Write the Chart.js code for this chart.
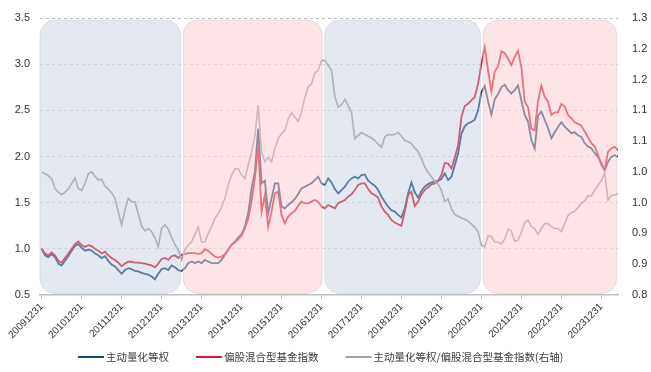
<!DOCTYPE html>
<html>
<head>
<meta charset="utf-8">
<script src="https://cdn.jsdelivr.net/npm/chart.js@4.4.1/dist/chart.umd.min.js"></script>
<style>
  html, body { margin: 0; padding: 0; background: #fff; }
</style>
</head>
<body>
<canvas id="chart" width="651" height="372"></canvas>
<script>
// year-end tick labels, one every 12 months starting at 20091231
const yearLabels = ["20091231", "20101231", "20111231", "20121231", "20131231", "20141231", "20151231",
  "20161231", "20171231", "20181231", "20191231", "20201231", "20211231", "20221231", "20231231"];

// monthly readings, index 0 = 2009-12
const quantEqual = [
  1.00, 0.93, 0.91, 0.94, 0.91, 0.84, 0.82, 0.87, 0.92, 0.98,
  1.03, 1.05, 1.01, 0.98, 0.99, 0.98, 0.95, 0.93, 0.90, 0.92,
  0.87, 0.83, 0.81, 0.77, 0.73, 0.77, 0.79, 0.78, 0.76, 0.755,
  0.74, 0.73, 0.72, 0.70, 0.67, 0.73, 0.78, 0.79, 0.77, 0.82,
  0.80, 0.77, 0.76,
  0.79, 0.845, 0.863, 0.845, 0.863, 0.845, 0.881, 0.863, 0.845, 0.845,
  0.845, 0.881, 0.935, 0.989, 1.043, 1.079, 1.122, 1.158, 1.241, 1.385,
  1.655, 1.835, 2.302, 1.709, 1.737, 1.385, 1.547, 1.709, 1.709, 1.457,
  1.439, 1.475, 1.504, 1.540, 1.594, 1.655, 1.673, 1.691, 1.709, 1.745,
  1.781, 1.709,
  1.691, 1.763, 1.719, 1.647, 1.601, 1.637, 1.673, 1.727, 1.763, 1.781,
  1.763, 1.799, 1.806, 1.737, 1.709, 1.683, 1.637, 1.565, 1.511, 1.457,
  1.417, 1.403, 1.367, 1.338, 1.439, 1.601, 1.719, 1.612, 1.554, 1.626,
  1.673, 1.701, 1.719, 1.727, 1.737, 1.755, 1.817, 1.745, 1.781, 1.906,
  2.032, 2.248, 2.327, 2.360, 2.374, 2.399,
  2.500, 2.698, 2.763, 2.597, 2.453, 2.619, 2.676, 2.752, 2.777, 2.719,
  2.683, 2.719, 2.770, 2.604, 2.450, 2.378, 2.176, 2.086, 2.446, 2.486,
  2.396, 2.306, 2.198, 2.263, 2.320, 2.371, 2.324, 2.288, 2.252, 2.263,
  2.230, 2.212, 2.144, 2.108, 2.090, 2.036, 1.996, 1.928, 1.853, 1.942,
  1.996, 2.014, 1.996
];

const mixedIndex = [
  1.00, 0.95, 0.93, 0.96, 0.93, 0.87, 0.85, 0.90, 0.95, 1.00,
  1.05, 1.08, 1.04, 1.02, 1.04, 1.03, 1.00, 0.98, 0.95, 0.97,
  0.93, 0.90, 0.88, 0.85, 0.81, 0.84, 0.86, 0.86, 0.85, 0.85,
  0.845, 0.84, 0.83, 0.82, 0.80, 0.84, 0.89, 0.90, 0.88, 0.92,
  0.93, 0.90, 0.935,
  0.946, 0.953, 0.953, 0.953, 0.946, 0.953, 0.996, 0.978, 0.946, 0.917,
  0.906, 0.917, 0.942, 0.989, 1.043, 1.068, 1.104, 1.140, 1.223, 1.324,
  1.511, 1.763, 2.122, 1.403, 1.583, 1.241, 1.403, 1.601, 1.619, 1.367,
  1.277, 1.349, 1.385, 1.410, 1.468, 1.511, 1.493, 1.493, 1.511, 1.529,
  1.511, 1.457,
  1.439, 1.475, 1.457, 1.439, 1.493, 1.511, 1.529, 1.565, 1.590, 1.637,
  1.691, 1.709, 1.709, 1.647, 1.601, 1.583, 1.554, 1.457, 1.403, 1.367,
  1.313, 1.284, 1.266, 1.248, 1.403, 1.583, 1.619, 1.464, 1.511, 1.590,
  1.637, 1.665, 1.698, 1.709, 1.734, 1.799, 1.930, 1.924, 1.871, 1.986,
  2.122, 2.428, 2.547, 2.572, 2.608, 2.644,
  2.788, 3.004, 3.183, 2.932, 2.705, 2.921, 2.978, 3.140, 3.119, 3.058,
  2.989, 3.079, 3.144, 2.964, 2.597, 2.532, 2.302, 2.284, 2.601, 2.766,
  2.647, 2.594, 2.450, 2.478, 2.478, 2.568, 2.540, 2.450, 2.414, 2.371,
  2.353, 2.335, 2.270, 2.209, 2.144, 2.108, 2.018, 1.910, 1.853, 2.050,
  2.086, 2.104, 2.068
];

// right axis
const ratioLine = [
  1.000, 0.997, 0.994, 0.989, 0.973, 0.967, 0.963, 0.967, 0.972, 0.981,
  0.990, 0.973, 0.970, 0.981, 0.997, 1.000, 0.993, 0.987, 0.988, 0.977,
  0.972, 0.966, 0.957, 0.935, 0.914, 0.938, 0.957, 0.952, 0.951, 0.932,
  0.912, 0.904, 0.908, 0.903, 0.893, 0.878, 0.908, 0.914, 0.907, 0.894,
  0.882, 0.873, 0.857,
  0.873, 0.881, 0.886, 0.898, 0.911, 0.886, 0.886, 0.900, 0.911, 0.924,
  0.932, 0.943, 0.957, 0.978, 0.995, 1.005, 1.005, 0.995, 0.989, 1.011,
  1.032, 1.059, 1.108, 1.032, 1.016, 1.024, 1.016, 1.038, 1.054, 1.062,
  1.067, 1.086, 1.096, 1.089, 1.082, 1.097, 1.121, 1.138, 1.143, 1.161,
  1.165, 1.181,
  1.181, 1.173, 1.165, 1.123, 1.105, 1.109, 1.118, 1.108, 1.096, 1.054,
  1.059, 1.064, 1.061, 1.058, 1.055, 1.051, 1.045, 1.040, 1.057, 1.061,
  1.060, 1.061, 1.064, 1.058, 1.051, 1.049, 1.046, 1.039, 1.033, 1.022,
  1.008, 0.999, 0.992, 0.985, 0.980, 0.970, 0.952, 0.956, 0.940, 0.931,
  0.928, 0.925, 0.923, 0.920, 0.915, 0.910,
  0.903, 0.881, 0.878, 0.896, 0.895, 0.886, 0.886, 0.883, 0.891, 0.907,
  0.904, 0.887, 0.889, 0.902, 0.918, 0.922, 0.911, 0.908, 0.898, 0.908,
  0.916, 0.916, 0.911, 0.908, 0.908, 0.903, 0.916, 0.929, 0.934, 0.936,
  0.942, 0.949, 0.953, 0.961, 0.961, 0.970, 0.978, 0.986, 0.999, 0.954,
  0.962, 0.962, 0.965
];

// market phases (month index boundaries)
const phaseEdges = [-0.5, 42.1, 84.6, 132.1, 173];
const phaseKind = ["down", "up", "down", "up"];

const phaseFill = { down: "rgba(187,197,217,0.4)", up: "rgba(251,201,205,0.5)" };

const months = quantEqual.map((_, i) => i);

Chart.defaults.font.family = "'Liberation Sans', Arial, sans-serif";
Chart.defaults.color = "#333";

const phasePlugin = {
  id: "phases",
  afterDatasetsDraw(chart) {
    const { ctx, chartArea, scales } = chart;
    const x = scales.x;
    ctx.save();
    for (let k = 0; k < phaseKind.length; k++) {
      const left = k === 0 ? chartArea.left : x.getPixelForValue(phaseEdges[k]) + 1.3;
      const right = Math.min(x.getPixelForValue(phaseEdges[k + 1]) - 1.3, chartArea.right);
      const top = chartArea.top + 2;
      const h = chartArea.bottom - 1.5 - top;
      ctx.beginPath();
      ctx.roundRect(left, top, right - left, h, 15);
      ctx.fillStyle = phaseFill[phaseKind[k]];
      ctx.fill();
      ctx.strokeStyle = "rgba(195,198,208,0.6)";
      ctx.lineWidth = 0.8;
      ctx.stroke();
    }
    ctx.restore();
  }
};

// legend drawn under the rotated date labels
const legendPlugin = {
  id: "bottomLegend",
  afterDraw(chart) {
    const { ctx, chartArea } = chart;
    const y = chartArea.bottom + 62;
    let x = chartArea.left + 38;
    ctx.save();
    ctx.font = "10.5px 'Noto Sans CJK SC', sans-serif";
    ctx.textBaseline = "middle";
    chart.data.datasets.forEach((ds) => {
      ctx.fillStyle = ds.borderColor;
      ctx.fillRect(x, y - 1, 26, 2);
      x += 28;
      ctx.fillStyle = "#404040";
      ctx.fillText(ds.label, x, y);
      x += ctx.measureText(ds.label).width + 27;
    });
    ctx.restore();
  }
};

function roundHalfUp(v) {
  return (Math.round(Math.round(v * 100) / 10) / 10).toFixed(1);
}

new Chart(document.getElementById("chart"), {
  type: "line",
  data: {
    labels: months,
    datasets: [
      {
        label: "主动量化等权",
        data: quantEqual,
        borderColor: "#174a7c",
        backgroundColor: "#174a7c",
        borderWidth: 1.8,
        yAxisID: "y",
        order: 3
      },
      {
        label: "偏股混合型基金指数",
        data: mixedIndex,
        borderColor: "#d81b2c",
        backgroundColor: "#d81b2c",
        borderWidth: 1.8,
        yAxisID: "y",
        order: 2
      },
      {
        label: "主动量化等权/偏股混合型基金指数(右轴)",
        data: ratioLine,
        borderColor: "#a3a3a3",
        backgroundColor: "#a3a3a3",
        borderWidth: 1.6,
        yAxisID: "y1",
        order: 1
      }
    ]
  },
  options: {
    responsive: false,
    animation: false,
    devicePixelRatio: 1,
    layout: { padding: { top: 18, left: 0, right: 0, bottom: 32 } },
    elements: { point: { radius: 0 }, line: { tension: 0 } },
    scales: {
      x: {
        type: "linear",
        min: -0.5,
        max: 173,
        afterBuildTicks: (axis) => {
          axis.ticks = yearLabels.map((_, k) => ({ value: k * 12 }));
        },
        ticks: {
          autoSkip: false,
          minRotation: 45,
          maxRotation: 45,
          padding: 2,
          font: { size: 10 },
          color: "#333",
          callback: (v) => yearLabels[Math.round(v / 12)]
        },
        grid: { drawOnChartArea: false, drawTicks: true, tickLength: 4, color: "#bfbfbf" },
        border: { display: true, color: "#bfbfbf", width: 1.5 },
        afterFit: (axis) => { axis.height = 45; }
      },
      y: {
        position: "left",
        min: 0.5,
        max: 3.5,
        ticks: {
          stepSize: 0.5,
          padding: 10,
          font: { size: 11 },
          color: "#333",
          callback: (v) => v.toFixed(1)
        },
        grid: {
          drawTicks: false,
          color: (c) => (c.index === 0 ? "rgba(0,0,0,0)" : c.tick && c.tick.value === 3.5 ? "#bdbdbd" : "#d9d9d9")
        },
        border: { display: false, dash: [3, 3] },
        afterFit: (axis) => { axis.width = 40; }
      },
      y1: {
        position: "right",
        min: 0.8,
        max: 1.25,
        ticks: {
          stepSize: 0.05,
          padding: 6,
          font: { size: 11 },
          color: "#333",
          callback: (v) => roundHalfUp(v)
        },
        grid: { display: false },
        border: { display: false },
        afterFit: (axis) => { axis.width = 33; }
      }
    },
    plugins: {
      tooltip: { enabled: false },
      legend: { display: false }
    }
  },
  plugins: [phasePlugin, legendPlugin]
});
</script>
</body>
</html>
